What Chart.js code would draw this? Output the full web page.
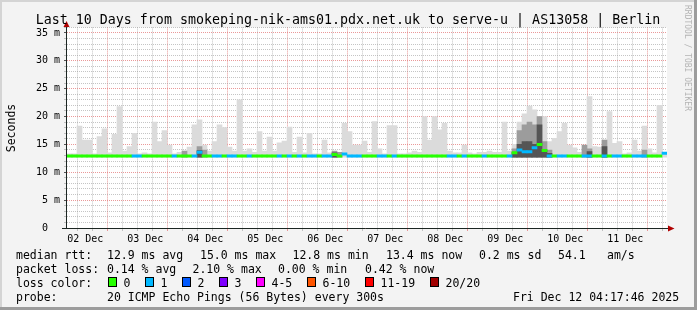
<!DOCTYPE html>
<html>
<head>
<meta charset="utf-8">
<title>smokeping - serve-u Berlin</title>
<script src="https://cdn.jsdelivr.net/npm/chart.js"></script>
<style>
  body { margin: 0; background: #f3f3f3; }
  canvas { display: block; }
</style>
</head>
<body>
<canvas id="smoke" width="697" height="310"></canvas>
<script>
// one sample every 2 hours over the last 10 days (120 samples), values in ms
const stepHours = 2;
const smokeFloor = 12.7;
const smokeTop = [
  13.3, 13.3, 18.3, 15.8, 15.8, 13.3, 16.4, 17.8, 13.5, 16.8,
  21.8, 13.8, 14.6, 17.0, 13.3, 13.5, 13.3, 19.0, 15.5, 17.5,
  14.9, 13.3, 13.6, 13.8, 14.5, 18.5, 19.4, 14.9, 13.8, 15.5,
  18.5, 18.0, 14.5, 13.8, 23.0, 13.8, 14.2, 13.6, 17.3, 13.8,
  16.3, 13.8, 15.3, 15.6, 18.1, 13.6, 16.3, 13.5, 17.0, 13.3,
  13.3, 15.8, 13.5, 13.2, 13.5, 18.8, 17.3, 14.9, 14.9, 15.6,
  13.6, 19.1, 14.2, 13.3, 18.4, 18.4, 13.3, 13.3, 13.5, 13.8,
  13.6, 20.0, 15.8, 20.0, 17.6, 18.8, 13.8, 13.5, 13.5, 14.9,
  13.5, 13.3, 13.6, 13.6, 13.8, 13.6, 13.6, 19.0, 13.8, 15.0,
  19.0, 20.5, 21.9, 21.2, 20.0, 20.0, 15.5, 16.1, 17.3, 18.8,
  14.9, 14.4, 13.6, 14.2, 23.6, 14.6, 14.5, 15.8, 20.9, 15.2,
  15.5, 13.3, 13.5, 15.8, 13.8, 18.3, 14.2, 13.5, 22.0, 13.6
];
const smokeMid = [
  null, null, null, null, null, null, null, null, null, null,
  null, null, null, null, null, null, null, null, null, null,
  null, null, null, 13.8, null, null, 14.6, 14.0, null, null,
  null, null, null, null, null, null, null, null, null, null,
  null, null, null, null, null, null, null, null, null, null,
  null, null, null, 13.8, 13.6, null, null, null, null, null,
  null, null, null, null, null, null, null, null, null, null,
  null, null, null, null, null, null, null, null, null, null,
  null, null, null, null, null, null, null, null, null, 14.2,
  17.5, 18.5, 19.0, 18.5, 20.0, 15.5, 14.0, null, null, null,
  null, null, null, 14.9, 14.2, null, null, 15.8, null, null,
  null, null, null, null, null, 14.0, null, null, null, null
];
const smokeDark = [
  null, null, null, null, null, null, null, null, null, null,
  null, null, null, null, null, null, null, null, null, null,
  null, null, null, null, null, null, 13.9, null, null, null,
  null, null, null, null, null, null, null, null, null, null,
  null, null, null, null, null, null, null, null, null, null,
  null, null, null, 13.5, null, null, null, null, null, null,
  null, null, null, null, null, null, null, null, null, null,
  null, null, null, null, null, null, null, null, null, null,
  null, null, null, null, null, null, null, null, null, 13.6,
  15.0, 15.5, 15.5, 15.0, 18.5, 14.0, 13.4, null, null, null,
  null, null, null, null, 13.7, null, null, 14.6, null, null,
  null, null, null, null, null, null, null, null, null, null
];
const median = [
  12.9, 12.9, 12.9, 12.9, 12.9, 12.9, 12.9, 12.9, 12.9, 12.9,
  12.9, 12.9, 12.9, 12.9, 12.9, 12.9, 12.9, 12.9, 12.9, 12.9,
  12.9, 12.9, 12.9, 12.9, 12.9, 12.9, 13.6, 12.9, 12.9, 12.9,
  12.9, 12.9, 12.9, 12.9, 12.9, 12.9, 12.9, 12.9, 12.9, 12.9,
  12.9, 12.9, 12.9, 12.9, 12.9, 12.9, 12.9, 12.9, 12.9, 12.9,
  12.9, 12.9, 12.9, 13.2, 12.9, 13.3, 12.9, 12.9, 12.9, 12.9,
  12.9, 12.9, 12.9, 12.9, 12.9, 12.9, 12.9, 12.9, 12.9, 12.9,
  12.9, 12.9, 12.9, 12.9, 12.9, 12.9, 12.9, 12.9, 12.9, 12.9,
  12.9, 12.9, 12.9, 12.9, 12.9, 12.9, 12.9, 12.9, 12.9, 13.5,
  14.0, 13.7, 13.7, 14.4, 15.0, 13.9, 12.9, 12.9, 12.9, 12.9,
  12.9, 12.9, 12.9, 12.9, 12.9, 12.9, 12.9, 12.9, 12.9, 12.9,
  12.9, 12.9, 12.9, 12.9, 12.9, 12.9, 12.9, 12.9, 12.9, 13.4
];
// lost pings (out of 20) per sample
const loss = [
  0, 0, 0, 0, 0, 0, 0, 0, 0, 0,
  0, 0, 0, 1, 1, 0, 0, 0, 0, 0,
  0, 1, 0, 0, 0, 1, 1, 0, 0, 1,
  1, 0, 1, 1, 0, 0, 1, 0, 0, 0,
  0, 0, 1, 0, 1, 0, 1, 0, 1, 1,
  0, 1, 1, 0, 0, 1, 1, 1, 1, 0,
  0, 0, 1, 1, 0, 1, 0, 0, 0, 0,
  0, 0, 0, 0, 0, 0, 1, 1, 0, 1,
  0, 0, 0, 1, 0, 0, 0, 0, 1, 0,
  1, 1, 1, 1, 0, 0, 1, 0, 1, 1,
  0, 0, 0, 1, 1, 0, 0, 1, 0, 1,
  1, 0, 0, 1, 1, 1, 0, 0, 0, 1
];
const dayLabels = ['02 Dec', '03 Dec', '04 Dec', '05 Dec', '06 Dec', '07 Dec', '08 Dec', '09 Dec', '10 Dec', '11 Dec'];
const lossBuckets = ['0', '1', '2', '3', '4-5', '6-10', '11-19', '20/20'];
const lossBucketColors = ['#26ff00', '#00b8ff', '#0059ff', '#7e00ff', '#ff00ff', '#ff5500', '#ff0000', '#a10000'];

function lossColor(n) {
  if (n <= 3) return lossBucketColors[n];
  if (n <= 5) return lossBucketColors[4];
  if (n <= 10) return lossBucketColors[5];
  if (n <= 19) return lossBucketColors[6];
  return lossBucketColors[7];
}

const sampleX = i => i * stepHours + stepHours / 2;
const layer = arr => arr.map((v, i) => ({ x: sampleX(i), y: v == null ? null : [smokeFloor, v] }));

const minorStart = 1.32;   // hours from graph start of the first 6h grid line
const mono = 'DejaVu Sans Mono';
const minorGrid = 'rgba(150,150,150,0.55)';
const majorGrid = 'rgba(225,110,110,0.7)';

// background, frame, axes and all the rrdtool texts
const frame = {
  id: 'frame',
  beforeDraw(chart) {
    const { ctx, chartArea: a, width, height } = chart;
    ctx.save();
    ctx.fillStyle = '#f3f3f3';
    ctx.fillRect(0, 0, width, height);
    ctx.fillStyle = '#d4d4d4';
    ctx.fillRect(0, 0, width, 2);
    ctx.fillRect(0, 0, 2, height);
    ctx.fillStyle = '#9c9c9c';
    ctx.fillRect(0, height - 3, width, 3);
    ctx.fillRect(width - 3, 0, 3, height);
    ctx.fillStyle = '#ffffff';
    ctx.fillRect(a.left, a.top, a.right - a.left, a.bottom - a.top);
    ctx.restore();
  },
  afterDraw(chart) {
    const { ctx } = chart;
    ctx.save();
    // axes
    ctx.strokeStyle = '#1c2622';
    ctx.lineWidth = 1;
    ctx.beginPath();
    ctx.moveTo(66.5, 229);
    ctx.lineTo(66.5, 25);
    ctx.moveTo(62, 228.5);
    ctx.lineTo(669, 228.5);
    ctx.stroke();
    ctx.fillStyle = '#b00000';
    ctx.beginPath();
    ctx.moveTo(66.5, 21);
    ctx.lineTo(63.5, 27);
    ctx.lineTo(69.5, 27);
    ctx.closePath();
    ctx.fill();
    ctx.beginPath();
    ctx.moveTo(674.5, 228.5);
    ctx.lineTo(668, 225.5);
    ctx.lineTo(668, 231.5);
    ctx.closePath();
    ctx.fill();

    // title
    ctx.fillStyle = '#000';
    ctx.font = '13.3px "' + mono + '"';
    ctx.textAlign = 'center';
    ctx.textBaseline = 'alphabetic';
    ctx.fillText('Last 10 Days from smokeping-nik-ams01.pdx.net.uk to serve-u | AS13058 | Berlin', 348, 24);

    // vertical label
    ctx.font = '11.5px "' + mono + '"';
    ctx.save();
    ctx.translate(15, 128);
    ctx.rotate(-Math.PI / 2);
    ctx.fillText('Seconds', 0, 0);
    ctx.restore();

    // watermark
    ctx.save();
    ctx.fillStyle = '#b4b4b4';
    ctx.font = '8px "' + mono + '"';
    ctx.translate(687.5, 5);
    ctx.rotate(Math.PI / 2);
    ctx.textAlign = 'left';
    ctx.textBaseline = 'middle';
    ctx.fillText('RRDTOOL / TOBI OETIKER', 0, 0);
    ctx.restore();

    // legend
    ctx.font = '11.5px "' + mono + '"';
    ctx.textAlign = 'left';
    const row1 = [[16, 'median rtt:'], [107, '12.9 ms avg'], [200, '15.0 ms max'], [292.5, '12.8 ms min'],
                  [386, '13.4 ms now'], [479, '0.2 ms sd'], [558, '54.1'], [607, 'am/s']];
    const row2 = [[16, 'packet loss:'], [107, '0.14 % avg'], [192.5, '2.10 % max'], [278, '0.00 % min'], [365, '0.42 % now']];
    row1.forEach(([x, t]) => ctx.fillText(t, x, 258.5));
    row2.forEach(([x, t]) => ctx.fillText(t, x, 272.5));
    ctx.fillText('loss color:', 16, 286.5);
    const boxX = [108.5, 145.5, 182.5, 219.5, 256.5, 307.5, 365.5, 430.5];
    lossBuckets.forEach((label, i) => {
      ctx.fillStyle = lossBucketColors[i];
      ctx.fillRect(boxX[i], 277.5, 8, 9);
      ctx.strokeStyle = '#000';
      ctx.strokeRect(boxX[i], 277.5, 8, 9);
      ctx.fillStyle = '#000';
      ctx.fillText(label, boxX[i] + 15, 286.5);
    });
    ctx.fillText('probe:', 16, 300.5);
    ctx.fillText('20 ICMP Echo Pings (56 Bytes) every 300s', 107, 300.5);
    ctx.fillText('Fri Dec 12 04:17:46 2025', 513, 300.5);
    ctx.restore();
  }
};

Chart.defaults.font.family = mono;
Chart.defaults.color = '#000';

new Chart(document.getElementById('smoke'), {
  type: 'bar',
  data: {
    datasets: [
      {
        label: 'median',
        data: median.map((m, i) => ({ x: sampleX(i), y: [m - 0.21, m + 0.21] })),
        backgroundColor: median.map((m, i) => lossColor(loss[i])),
        order: 0
      },
      { label: 'smoke dark', data: layer(smokeDark), backgroundColor: '#555555', order: 1 },
      { label: 'smoke mid', data: layer(smokeMid), backgroundColor: '#9c9c9c', order: 2 },
      { label: 'smoke', data: layer(smokeTop), backgroundColor: '#dbdbdb', order: 3 }
    ]
  },
  options: {
    responsive: false,
    animation: false,
    grouped: false,
    barPercentage: 1,
    categoryPercentage: 1,
    borderWidth: 0,
    layout: { padding: { top: 27.4, right: 30, left: 0, bottom: 0 } },
    plugins: { legend: { display: false }, tooltip: { enabled: false } },
    scales: {
      x: {
        type: 'linear',
        min: 0,
        max: dayLabels.length * 24,
        offset: false,
        afterBuildTicks: scale => {
          const ticks = [];
          for (let v = minorStart; v < scale.max; v += 6) ticks.push({ value: v });
          scale.ticks = ticks;
        },
        afterFit: scale => { scale.height = 82; },
        ticks: {
          autoSkip: false,
          maxRotation: 0,
          padding: 2,
          font: { size: 10 },
          callback: (v, i) => (i % 4 === 1 ? dayLabels[(i - 1) / 4] : '')
        },
        grid: {
          color: ctx => (ctx.index % 4 === 3 ? majorGrid : minorGrid),
          tickColor: ctx => (ctx.index % 4 === 3 ? majorGrid : minorGrid),
          tickLength: 3,
          tickBorderDash: []
        },
        border: { display: false, dash: [1, 1] }
      },
      y: {
        min: 0,
        max: 36,
        afterFit: scale => { scale.width = 67; },
        ticks: {
          stepSize: 1,
          autoSkip: false,
          padding: 4,
          font: { size: 10 },
          callback: v => (v % 5 !== 0 ? '' : v === 0 ? '0  ' : v + ' m')
        },
        grid: {
          color: ctx => (ctx.tick.value % 5 === 0 ? majorGrid : minorGrid),
          tickColor: ctx => (ctx.tick.value % 5 === 0 ? '#555' : minorGrid),
          tickLength: 3,
          tickBorderDash: []
        },
        border: { display: false, dash: [1, 1] }
      }
    }
  },
  plugins: [frame]
});
</script>
</body>
</html>
